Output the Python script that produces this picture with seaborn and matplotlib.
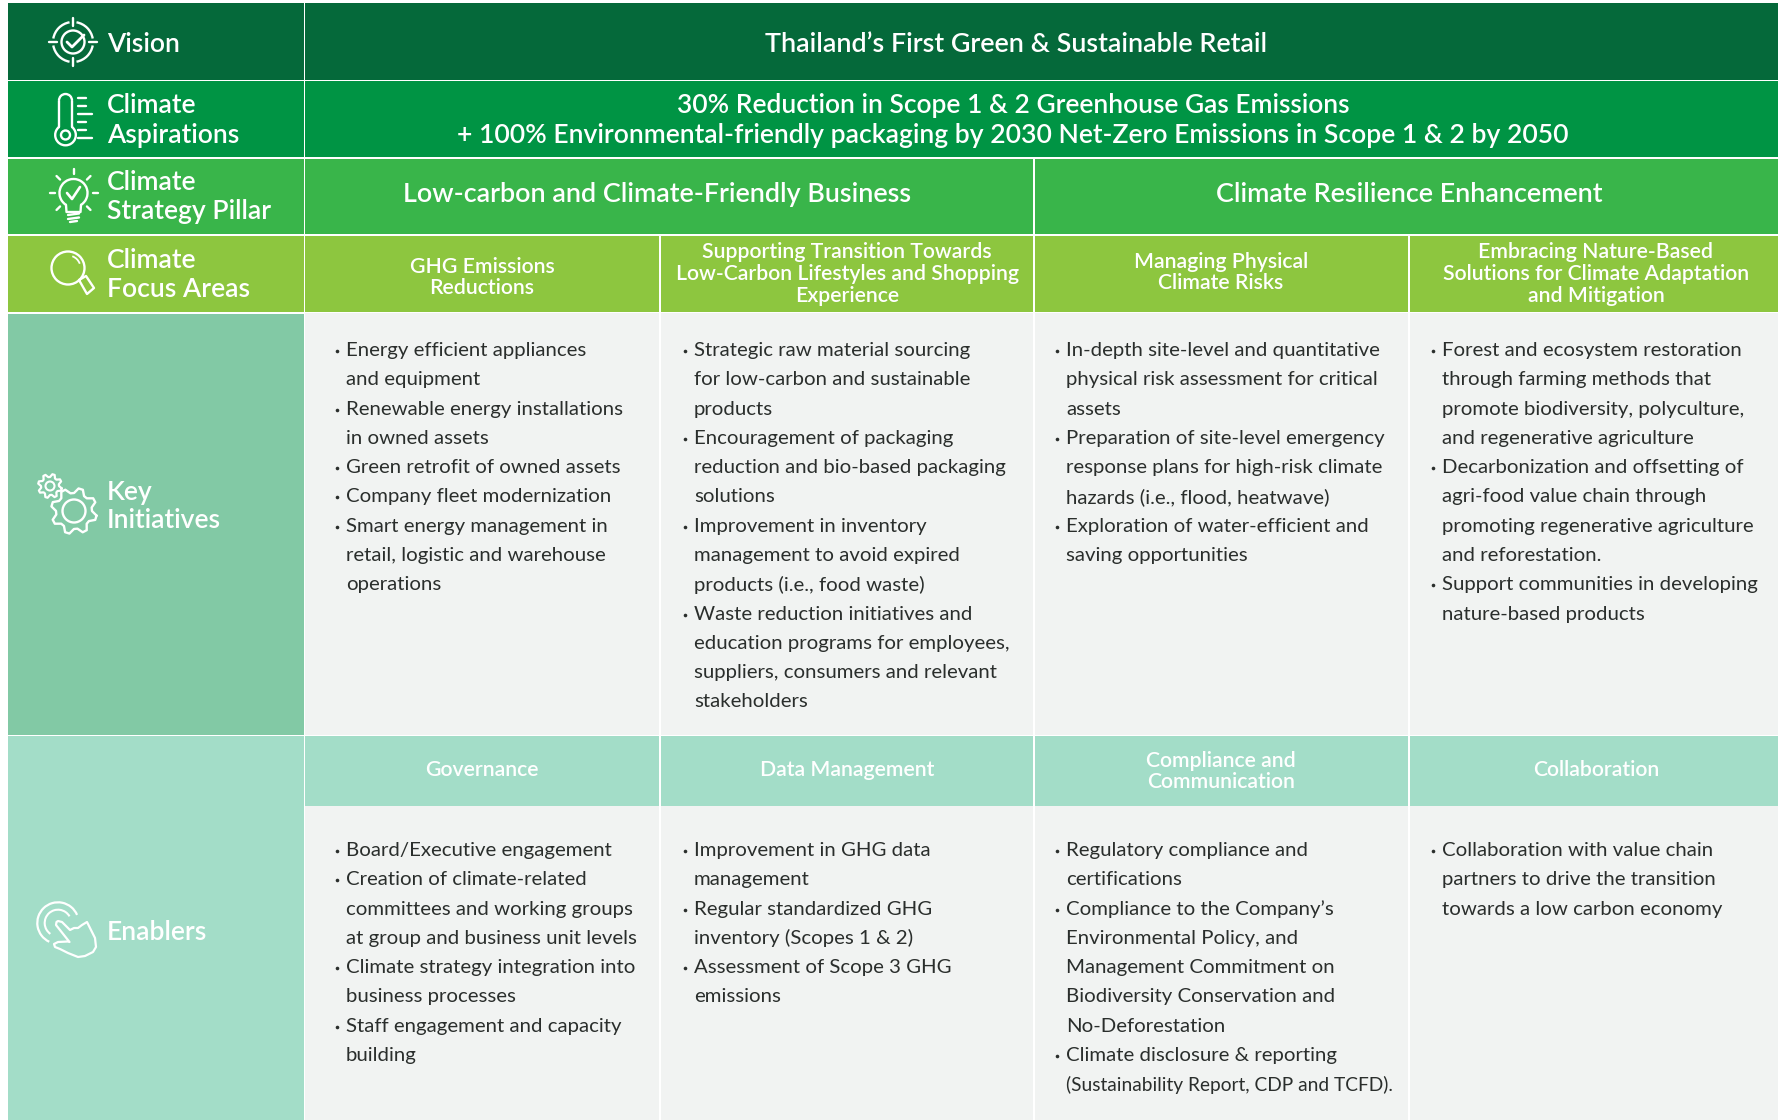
import numpy as np
import matplotlib
matplotlib.use("Agg")
import matplotlib.pyplot as plt
from matplotlib.patches import Rectangle, Circle, Arc
import seaborn as sns

row_labels = [["Vision"], ["Climate", "Aspirations"], ["Climate", "Strategy Pillar"],
              ["Climate", "Focus Areas"], ["Key", "Initiatives"], ["Enablers"]]
vision = "Thailand\u2019s First Green & Sustainable Retail"
aspirations = ["30% Reduction in Scope 1 & 2 Greenhouse Gas Emissions",
               "+ 100% Environmental-friendly packaging by 2030 Net-Zero Emissions in Scope 1 & 2 by 2050"]
pillars = ["Low-carbon and Climate-Friendly Business", "Climate Resilience Enhancement"]
focus_areas = [["GHG Emissions", "Reductions"],
               ["Supporting Transition Towards", "Low-Carbon Lifestyles and Shopping", "Experience"],
               ["Managing Physical", "Climate Risks"],
               ["Embracing Nature-Based", "Solutions for Climate Adaptation", "and Mitigation"]]
enabler_heads = [["Governance"], ["Data Management"], ["Compliance and", "Communication"], ["Collaboration"]]

# "*" marks a line that starts a bullet
initiatives = [
    ["*Energy efficient appliances", "and equipment", "*Renewable energy installations", "in owned assets",
     "*Green retrofit of owned assets", "*Company fleet modernization", "*Smart energy management in",
     "retail, logistic and warehouse", "operations"],
    ["*Strategic raw material sourcing", "for low-carbon and sustainable", "products",
     "*Encouragement of packaging", "reduction and bio-based packaging", "solutions",
     "*Improvement in inventory", "management to avoid expired", "products (i.e., food waste)",
     "*Waste reduction initiatives and", "education programs for employees,",
     "suppliers, consumers and relevant", "stakeholders"],
    ["*In-depth site-level and quantitative", "physical risk assessment for critical", "assets",
     "*Preparation of site-level emergency", "response plans for high-risk climate",
     "hazards (i.e., flood, heatwave)", "*Exploration of water-efficient and", "saving opportunities"],
    ["*Forest and ecosystem restoration", "through farming methods that", "promote biodiversity, polyculture,",
     "and regenerative agriculture", "*Decarbonization and offsetting of", "agri-food value chain through",
     "promoting regenerative agriculture", "and reforestation.", "*Support communities in developing",
     "nature-based products"],
]
enablers = [
    ["*Board/Executive engagement", "*Creation of climate-related", "committees and working groups",
     "at group and business unit levels", "*Climate strategy integration into", "business processes",
     "*Staff engagement and capacity", "building"],
    ["*Improvement in GHG data", "management", "*Regular standardized GHG", "inventory (Scopes 1 & 2)",
     "*Assessment of Scope 3 GHG", "emissions"],
    ["*Regulatory compliance and", "certifications", "*Compliance to the Company\u2019s",
     "Environmental Policy, and", "Management Commitment on", "Biodiversity Conservation and",
     "No-Deforestation", "*Climate disclosure & reporting", "(Sustainability Report, CDP and TCFD)."],
    ["*Collaboration with value chain", "partners to drive the transition", "towards a low carbon economy"],
]

row_colors = sns.color_palette(["#05693A", "#009444", "#39B54A", "#8DC63F", "#82C9A5", "#A3DDC8"])
body_color = "#F1F3F2"
ink = "#2A2E2C"

sns.set_theme(style="white")
plt.rcParams["font.family"] = ["Lato", "DejaVu Sans"]

fig = plt.figure(figsize=(17.78, 11.2), dpi=100)
ax = fig.add_axes([0, 0, 1, 1])
ax.set_xlim(0, 1778)
ax.set_ylim(1120, 0)
ax.axis("off")
sns.despine(ax=ax, left=True, bottom=True)

# layout, in pixels of the picture
left, split, right = 8, 304, 1778
cols = [305, 660, 1034, 1409, 1778]
tops = [3, 81, 159, 236, 314, 736]
bottoms = [80, 157, 234, 312, 735, 1120]
head_bottom = 806


def box(x0, x1, y0, y1, c):
    ax.add_patch(Rectangle((x0, y0), x1 - x0, y1 - y0, fc=c, ec="none", lw=0, zorder=1))


def put(x, y, s, size, color="white", ha="center", weight="semibold"):
    ax.text(x, y, s, fontsize=size, color=color, ha=ha, va="center", fontweight=weight, zorder=3)


def stroke(xs, ys, lw=1.7):
    ax.plot(xs, ys, color="white", lw=lw, solid_capstyle="round", solid_joinstyle="round", zorder=3)


def ring(cx, cy, r, lw=1.7):
    ax.add_patch(Circle((cx, cy), r, fc="none", ec="white", lw=lw, zorder=3))


def arc(cx, cy, r, a0, a1, lw=1.7):
    ax.add_patch(Arc((cx, cy), 2 * r, 2 * r, theta1=a0, theta2=a1, ec="white", lw=lw, zorder=3))


def gear(cx, cy, r0, r1, teeth, lw=1.7):
    t = np.linspace(0, 2 * np.pi, teeth * 4, endpoint=False) + 0.2
    r = np.tile([r1, r1, r0, r0], teeth)
    stroke(np.r_[cx + r * np.cos(t), cx + r[0] * np.cos(t[0])],
           np.r_[cy + r * np.sin(t), cy + r[0] * np.sin(t[0])], lw)


# colour bands
for i, c in enumerate(row_colors):
    box(left, split, tops[i], bottoms[i], c)
box(cols[0], right, tops[0], bottoms[0], row_colors[0])
box(cols[0], right, tops[1], bottoms[1], row_colors[1])
box(cols[0], cols[2] - 1, tops[2], bottoms[2], row_colors[2])
box(cols[2] + 1, right, tops[2], bottoms[2], row_colors[2])
for j in range(4):
    x0 = cols[j] + (1 if j else 0)
    x1 = cols[j + 1] - 1 if j < 3 else right
    box(x0, x1, tops[3], bottoms[3], row_colors[3])
    box(x0, x1, tops[4] - 1, bottoms[4], body_color)
    box(x0, x1, tops[5], head_bottom, row_colors[5])
    box(x0, x1, head_bottom, bottoms[5], body_color)

# row labels
label_y = [[44.5], [105.5, 135], [182.5, 212], [260.5, 289.5], [492.5, 521], [932.5]]
for lines, ys in zip(row_labels, label_y):
    for s, y in zip(lines, ys):
        put(107, y, s, 19.1, ha="left")

# band titles
put(1016, 44.5, vision, 19.4)
put(1013, 105.5, aspirations[0], 19.0)
put(1013, 135, aspirations[1], 19.05)
put(657, 194.5, pillars[0], 19.4)
put(1409, 194.5, pillars[1], 19.4)

# focus area and enabler headers
spacing = 21.5
head_x = [482, 847, 1221, 1596]
focus_mid = [277.3, 274, 272.7, 274]
enabler_mid = [770, 770, 771.5, 770]
for j, lines in enumerate(focus_areas):
    y0 = focus_mid[j] - spacing * (len(lines) - 1) / 2
    for k, s in enumerate(lines):
        put(head_x[j], y0 + k * spacing, s, 15.3)
for j, lines in enumerate(enabler_heads):
    y0 = enabler_mid[j] - spacing * (len(lines) - 1) / 2
    for k, s in enumerate(lines):
        put(head_x[j], y0 + k * spacing, s, 15.3)

# bullet lists
text_x = [346, 694, 1066, 1442]
step = 29.28
for block, y0 in ((initiatives, 350.5), (enablers, 850.5)):
    for j, lines in enumerate(block):
        for k, s in enumerate(lines):
            y = y0 + k * step
            if s.startswith("*"):
                s = s[1:]
                ax.plot([text_x[j] - 9], [y + 0.5], "o", ms=2.6, color=ink, mew=0, zorder=3)
            size = 13.8 if s.endswith("TCFD).") else 14.7
            put(text_x[j], y, s, size, color=ink, ha="left", weight="normal")

# icons
# target
for a in (10, 100, 190, 280):
    arc(73, 42, 20, a, a + 70)
ring(73, 42, 11.5)
for dx, dy in ((1, 0), (-1, 0), (0, 1), (0, -1)):
    stroke([73 + 16 * dx, 73 + 24 * dx], [42 + 16 * dy, 42 + 24 * dy])
stroke([67, 72, 84], [42, 47, 35], 2)

# thermometer
arc(65.5, 100.5, 6.5, 180, 360)
stroke([59, 59], [100.5, 127])
stroke([72, 72], [100.5, 127])
arc(65.5, 135, 10.3, -52, 232)
ring(65.5, 135, 4.5)
for y, x1 in zip((98, 106, 114, 122, 130, 138), (86, 86, 92, 86, 86, 92)):
    stroke([78, x1], [y, y])

# light bulb
arc(73.5, 193, 14, 120, 60 + 360)
stroke([66, 66.5, 80.5, 81], [205, 212, 212, 205])
stroke([68, 79], [215, 213.5])
stroke([68, 79], [219, 217.5])
stroke([70, 77], [222, 221])
stroke([67, 72, 80], [193, 199, 187], 1.9)
for a in (0, 45, 90, 135, 180, 225, 315):
    t = np.deg2rad(a)
    stroke([73.5 + 19 * np.cos(t), 73.5 + 24 * np.cos(t)], [193 - 19 * np.sin(t), 193 - 24 * np.sin(t)])

# magnifier
ring(68, 268, 16.5)
arc(68, 268, 12.5, -70, -20, 1.3)
stroke([79, 87, 94, 86, 79], [280, 294, 288, 276, 280])

# gears
gear(50, 486, 9, 12, 8, 1.6)
ring(50, 486, 4.5, 1.5)
gear(74, 511, 18, 23, 8, 1.7)
ring(74, 511, 11.5, 1.7)

# pointing hand
arc(58, 923, 20.7, 115, 337, 1.6)
arc(58, 923, 13.3, 125, 330, 1.5)
stroke([69.5, 56, 56.5, 58, 62, 70, 74, 78, 82, 87, 91, 95, 96, 93, 85, 78, 68, 60, 55, 54, 58, 68],
       [942, 925, 922, 921, 922, 930, 928, 928, 925, 922, 930, 938, 947, 952, 956, 957, 953, 949, 947, 944, 942, 941.5], 1.6)

fig.savefig("out.png", dpi=100, facecolor="white")
